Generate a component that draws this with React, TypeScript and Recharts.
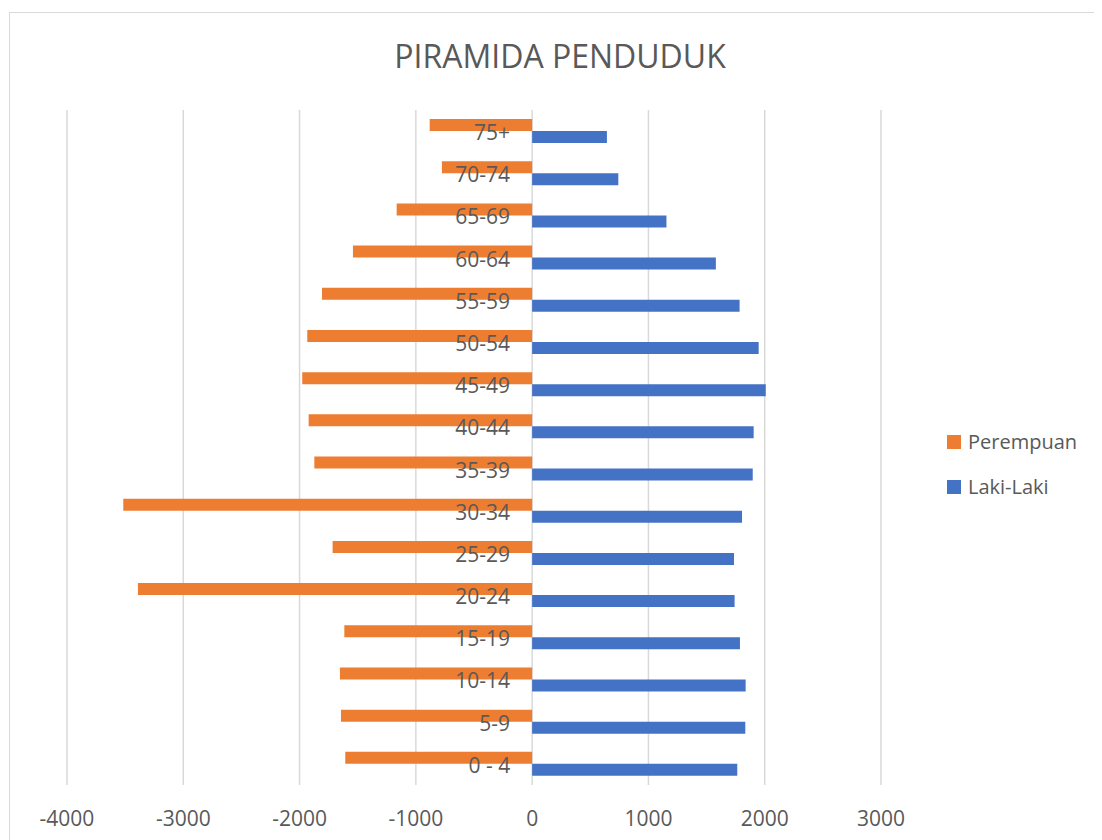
import React from 'react';
import { BarChart, Bar, XAxis, YAxis, CartesianGrid, Legend, LabelList } from 'recharts';

// age groups, top of the pyramid first
const AGE_GROUPS = [
  '75+', '70-74', '65-69', '60-64', '55-59', '50-54', '45-49', '40-44',
  '35-39', '30-34', '25-29', '20-24', '15-19', '10-14', '5-9', '0 - 4',
];

// female counts (drawn to the left, so negated below)
const PEREMPUAN = [
  881, 776, 1165, 1541, 1807, 1934, 1977, 1922,
  1873, 3516, 1716, 3390, 1615, 1653, 1644, 1607,
];

const LAKI_LAKI = [
  643, 741, 1155, 1580, 1784, 1948, 2009, 1905,
  1897, 1805, 1736, 1741, 1787, 1836, 1833, 1764,
];

const X_TICKS = [-4000, -3000, -2000, -1000, 0, 1000, 2000, 3000];

const ORANGE = '#ED7D31';
const BLUE = '#4472C4';
const TEXT = '#595959';
const GRID = '#d9d9d9';
const FONT = '"Open Sans", "Noto Sans", sans-serif';

const rows = AGE_GROUPS.map((age, i) => ({
  age,
  perempuan: -PEREMPUAN[i],
  laki: LAKI_LAKI[i],
}));

// age label sits just left of the zero line, centred on the category band
const AgeLabel = (props: any) => {
  const { x, y, value } = props;
  return (
    <text
      x={Number(x) - 22}
      y={Number(y) + 9}
      textAnchor="end"
      fill={TEXT}
      fontSize={21}
      fontFamily={FONT}
    >
      {value}
    </text>
  );
};

const LegendBox = () => {
  const items = [
    { name: 'Perempuan', color: ORANGE },
    { name: 'Laki-Laki', color: BLUE },
  ];
  return (
    <div style={{ fontFamily: FONT }}>
      {items.map((it, i) => (
        <div
          key={it.name}
          style={{
            display: 'flex',
            alignItems: 'center',
            height: 24,
            marginTop: i === 0 ? 0 : 21,
          }}
        >
          <span style={{ width: 14, height: 14, background: it.color, display: 'inline-block' }} />
          <span style={{ marginLeft: 7, fontSize: 20, color: TEXT, lineHeight: '24px' }}>{it.name}</span>
        </div>
      ))}
    </div>
  );
};

export default function App() {
  return (
    <div
      style={{
        position: 'relative',
        width: 1100,
        height: 840,
        margin: '4px 0 0 1px',
        border: `1px solid ${GRID}`,
        background: '#fff',
      }}
    >
      <div
        style={{
          position: 'absolute',
          top: 23,
          left: 0,
          width: 1100,
          textAlign: 'center',
          fontFamily: FONT,
          fontSize: 32,
          lineHeight: '40px',
          color: TEXT,
        }}
      >
        PIRAMIDA PENDUDUK
      </div>
      <div style={{ position: 'absolute', top: 0, left: 0 }}>
        <BarChart
          width={1098}
          height={827}
          data={rows}
          layout="vertical"
          margin={{ top: 97, right: 227, bottom: 15, left: 57 }}
          barGap={0}
        >
          <CartesianGrid horizontal={false} stroke={GRID} strokeWidth={1.5} />
          <XAxis
            type="number"
            domain={[-4000, 3000]}
            ticks={X_TICKS}
            allowDataOverflow
            axisLine={false}
            tickLine={false}
            height={40}
            tickMargin={20}
            tick={{ fontSize: 21, fill: TEXT, fontFamily: FONT }}
          />
          <YAxis type="category" dataKey="age" hide />
          <Legend
            layout="vertical"
            align="center"
            verticalAlign="middle"
            content={<LegendBox />}
            wrapperStyle={{ left: 937, top: 417, width: 160, height: 70 }}
          />
          <Bar dataKey="perempuan" name="Perempuan" fill={ORANGE} barSize={12} isAnimationActive={false} />
          <Bar dataKey="laki" name="Laki-Laki" fill={BLUE} barSize={12} isAnimationActive={false}>
            <LabelList dataKey="age" content={<AgeLabel />} />
          </Bar>
        </BarChart>
      </div>
    </div>
  );
}
